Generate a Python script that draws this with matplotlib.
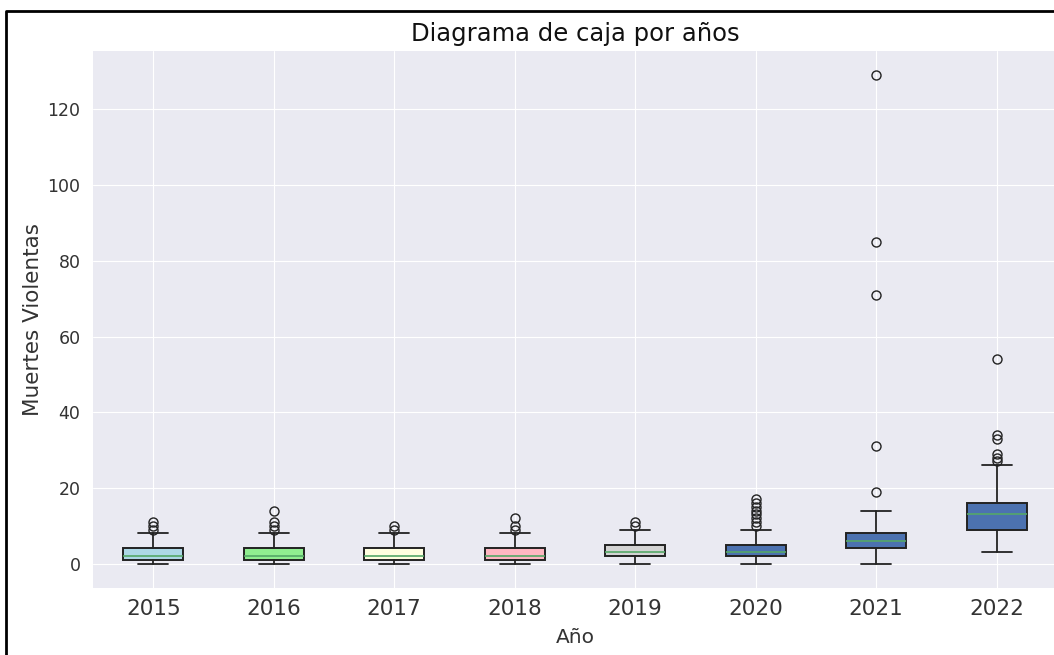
import matplotlib
matplotlib.use('Agg')
import matplotlib.pyplot as plt
from matplotlib.lines import Line2D

# box statistics per year
years = ['2015', '2016', '2017', '2018', '2019', '2020', '2021', '2022']
q1 = [1, 1, 1, 1, 2, 2, 4, 9]
medians = [2, 2, 2, 2, 3, 3, 6, 13]
q3 = [4, 4, 4, 4, 5, 5, 8, 16]
whis_low = [0, 0, 0, 0, 0, 0, 0, 3]
whis_high = [8, 8, 8, 8, 9, 9, 14, 26]
outliers = [
	[9, 10, 11],
	[9, 10, 11, 14],
	[9, 10],
	[9, 10, 12],
	[10, 11],
	[10, 11, 12, 13, 14, 15, 16, 17],
	[19, 31, 71, 85, 129],
	[27, 28, 29, 33, 34, 54],
]
box_colors = ['lightblue', 'lightgreen', 'lightyellow', 'lightpink', 'lightgray',
	'#4C72B0', '#4C72B0', '#4C72B0']

# build_stats turns the lists into what bxp wants
def build_stats():
	stats = []
	for i, year in enumerate(years):
		stats.append({
			'label': year,
			'q1': q1[i],
			'med': medians[i],
			'q3': q3[i],
			'whislo': whis_low[i],
			'whishi': whis_high[i],
			'fliers': outliers[i],
		})
	return stats

def main():
	plt.style.use('seaborn-v0_8-darkgrid')
	plt.rcParams['font.family'] = ['DejaVu Sans']
	fig = plt.figure(figsize=(10.54, 6.55), dpi=100)
	ax = fig.add_axes([93 / 1054, 67 / 655, 964 / 1054, 537 / 655])

	bp = ax.bxp(build_stats(), patch_artist=True,
		boxprops={'linewidth': 1.4, 'edgecolor': '#222222'},
		whiskerprops={'linewidth': 1.3, 'color': '#222222'},
		capprops={'linewidth': 1.3, 'color': '#222222'},
		medianprops={'linewidth': 1.2, 'color': '#55A868'},
		flierprops={'markeredgecolor': '#222222', 'markersize': 6.5})
	for patch, color in zip(bp['boxes'], box_colors):
		patch.set_facecolor(color)

	ax.set_title('Diagrama de caja por años', fontsize=17.5, color='#111111', pad=7)
	ax.set_xlabel('Año', fontsize=14.5, color='#333333', labelpad=6.5)
	ax.set_ylabel('Muertes Violentas', fontsize=15.5, color='#333333', labelpad=3)
	ax.tick_params(axis='x', labelsize=15.5, labelcolor='#333333', pad=8)
	ax.tick_params(axis='y', labelsize=12.5, labelcolor='#333333', pad=9)

	# frame of the screenshot
	x0 = 6 / 1054
	y0 = 1 - 11 / 655
	fig.add_artist(Line2D([x0, x0, 1.0], [0.0, y0, y0], color='black', linewidth=2, transform=fig.transFigure))

	fig.savefig('out.png', dpi=100)

if __name__ == '__main__':
	main()
